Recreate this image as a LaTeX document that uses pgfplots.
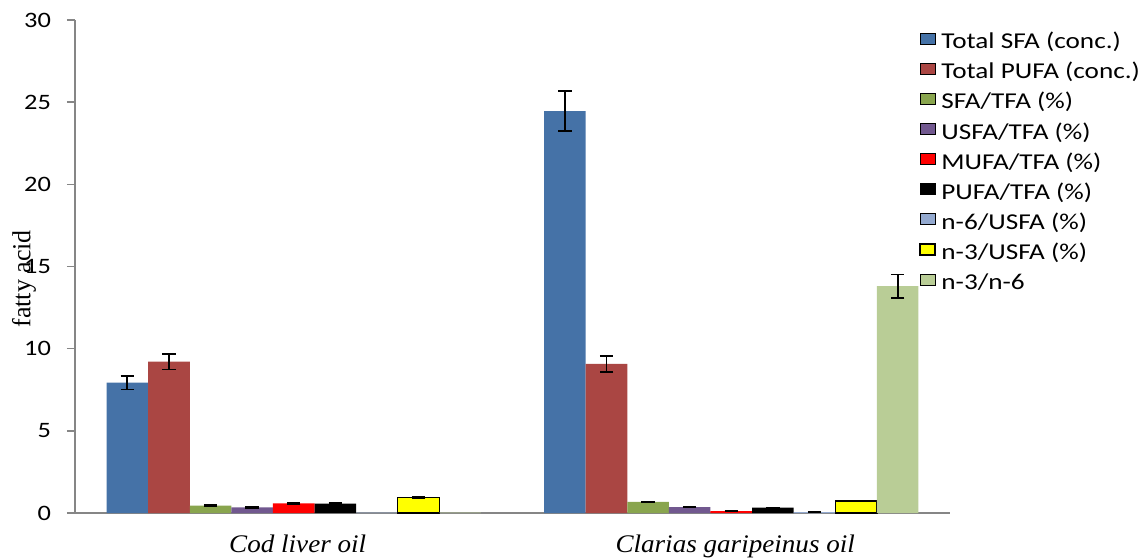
\documentclass[border=0pt]{standalone}
\usepackage{fontspec}
\setmainfont{Carlito}[FakeStretch=1.2]
\newfontfamily\tnr{Liberation Serif}
\newfontfamily\tnrit{Liberation Serif Italic}[FakeStretch=1.07]
\usepackage{pgfplots}
\pgfplotsset{compat=1.18}
\definecolor{cA}{HTML}{4572A7}
\definecolor{cB}{HTML}{AA4643}
\definecolor{cC}{HTML}{89A54E}
\definecolor{cD}{HTML}{71588F}
\definecolor{cE}{HTML}{FF0000}
\definecolor{cF}{HTML}{000000}
\definecolor{cG}{HTML}{93A9CF}
\definecolor{cH}{HTML}{FFFF00}
\definecolor{cI}{HTML}{B9CD96}
\definecolor{axgray}{HTML}{868686}
\begin{document}
\begin{tikzpicture}
\useasboundingbox (-56.25pt,-33.75pt) rectangle (800.25pt,384.75pt);
\begin{axis}[
  scale only axis, width=656.25pt, height=369.75pt,
  ybar=0pt, bar width=31.2pt,
  xmin=-0.5, xmax=1.5, ymin=0, ymax=30,
  ytick={0,5,...,30},
  xtick={0,1}, xticklabels={Cod liver oil, Clarias garipeinus oil},
  xtick style={draw=none},
  extra x ticks={-0.5,0.5,1.5}, extra x tick labels={},
  extra x tick style={tick style={draw=axgray, line width=1.1pt}},
  axis lines=left,
  axis line style={-, draw=axgray, line width=1.1pt},
  tick align=outside, major tick length=6pt,
  tick style={draw=axgray, line width=1.1pt},
  yticklabel style={font=\fontsize{16.5}{16.5}\selectfont, xshift=-8.5pt, /pgf/number format/assume math mode=true},
  xticklabel style={font=\tnrit\fontsize{19}{19}\selectfont, anchor=base, inner sep=0pt, yshift=-23.25pt, xshift=3pt},
  ylabel={fatty acid},
  ylabel style={font=\tnr\fontsize{19.5}{19.5}\selectfont, at={(axis description cs:-0.0583,0.475)}, anchor=center, rotate=0},
  legend image code/.code={\draw[#1] (0pt,-0.75pt) rectangle (11.25pt,7.5pt); \path (15.5pt,0pt);},
  legend cell align=left,
  legend style={at={(axis description cs:0.9646,0.975)}, anchor=north west, draw=none, fill=none, inner sep=0pt,
    font=\fontsize{17}{17}\selectfont, row sep=7.35pt,
    nodes={inner sep=0pt, text height=12pt, text depth=3pt}},
  error bars/y dir=both, error bars/y explicit,
  error bars/error bar style={draw=black, line width=1.3pt},
  error bars/error mark options={rotate=90, mark size=5pt, line width=1.3pt, draw=black},
]
\addplot[fill=cA, draw=none, bar shift=-124.8pt] coordinates {(0,7.93) +- (0,0.41) (1,24.46) +- (0,1.22)};
\addlegendentry{Total SFA (conc.)}
\addplot[fill=cB, draw=none, bar shift=-93.6pt] coordinates {(0,9.21) +- (0,0.47) (1,9.07) +- (0,0.49)};
\addlegendentry{Total PUFA (conc.)}
\addplot[fill=cC, draw=none, bar shift=-62.4pt] coordinates {(0,0.45) +- (0,0.03) (1,0.67) +- (0,0.03)};
\addlegendentry{SFA/TFA (\%)}
\addplot[fill=cD, draw=none, bar shift=-31.2pt] coordinates {(0,0.35) +- (0,0.03) (1,0.36) +- (0,0.03)};
\addlegendentry{USFA/TFA (\%)}
\addplot[fill=cE, draw=none, bar shift=0pt] coordinates {(0,0.59) +- (0,0.03) (1,0.12) +- (0,0.03)};
\addlegendentry{MUFA/TFA (\%)}
\addplot[fill=cF, draw=none, bar shift=31.2pt] coordinates {(0,0.57) +- (0,0.02) (1,0.32) +- (0,0.02)};
\addlegendentry{PUFA/TFA (\%)}
\addplot[fill=cG, draw=none, bar shift=62.4pt, error bars/y dir=none] coordinates {(0,0.02) (1,0.05)};
\addlegendentry{n-6/USFA (\%)}
\addplot[fill=cH, draw=black, line width=1.1pt, bar shift=93.6pt] coordinates {(0,0.93) +- (0,0.03) (1,0.73) +- (0,0.03)};
\addlegendentry{n-3/USFA (\%)}
\addplot[fill=cI, draw=none, bar shift=124.8pt, error bars/y dir=none] coordinates {(0,0.02) (1,13.81)};
\addlegendentry{n-3/n-6}
% error bars for the Clarias points of the last two series
\addplot[draw=none, fill=none, forget plot, bar shift=62.4pt] coordinates {(1,0.05) +- (0,0.02)};
\addplot[draw=none, fill=none, forget plot, bar shift=124.8pt] coordinates {(1,13.81) +- (0,0.71)};
\end{axis}
\end{tikzpicture}
\end{document}
